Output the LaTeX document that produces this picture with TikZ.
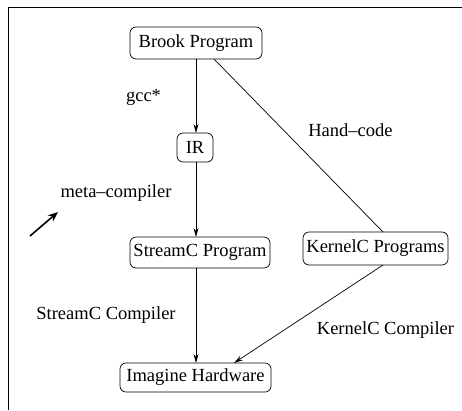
\documentclass[tikz,border=0pt]{standalone}
\usepackage{fontspec}
\setmainfont{Liberation Serif}
\usetikzlibrary{arrows.meta}
\begin{document}
\begin{tikzpicture}[x=1pt,y=-1pt,
  box/.style={draw,rounded corners=6pt,line width=0.7pt,inner sep=0pt,font=\fontsize{18.5}{20}\selectfont},
  lbl/.style={font=\fontsize{18.5}{20}\selectfont,inner sep=0pt},
  conn/.style={line width=0.7pt,-{Stealth[length=9pt,width=5pt]}},
  plain/.style={line width=0.7pt}]
\useasboundingbox (0,0) rectangle (462,410);
\draw[line width=1pt] (8,410) -- (8,7.5) -- (462,7.5);
\node[box,minimum width=132pt,minimum height=32pt] (brook) at (196,43) {Brook Program};
\node[box,minimum width=36pt,minimum height=29pt] (ir) at (195,147.5) {IR};
\node[box,minimum width=140pt,minimum height=31pt] (streamc) at (200,252.5) {StreamC Program};
\node[box,minimum width=145pt,minimum height=33pt] (kernelc) at (375.5,248.5) {KernelC Programs};
\node[box,minimum width=151pt,minimum height=29pt] (hw) at (195.5,377.5) {Imagine Hardware};
\coordinate (bk) at (214,59);
\coordinate (kt) at (383,232);
\coordinate (kb) at (383,265);
\coordinate (ht) at (234,363);
\draw[conn] (196,59) -- (196,133);
\draw[conn] (196,162) -- (196,237);
\draw[conn] (196,268) -- (196,363);
\draw[plain] (bk) -- (kt);
\draw[conn] (kb) -- (ht);
\node[lbl] (gcc) at (143.5,97) {gcc*};
\node[lbl] (hand) at (350.5,130) {Hand--code};
\node[lbl] (meta) at (116,193) {meta--compiler};
\node[lbl] (scc) at (106,315) {StreamC Compiler};
\node[lbl] (kcc) at (385.5,330) {KernelC Compiler};
\coordinate (ma) at (30,236);
\coordinate (mb) at (58,212);
\draw[line width=1.6pt,-{Stealth[length=10pt,width=8pt]}] (ma) -- (mb);
\end{tikzpicture}
\end{document}
